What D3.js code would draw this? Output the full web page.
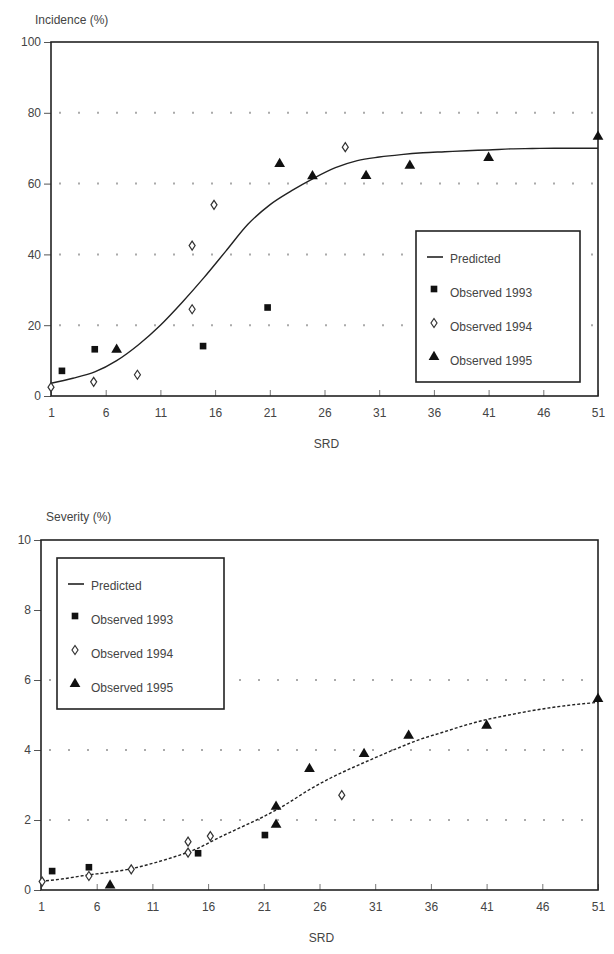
<!DOCTYPE html>
<html>
<head>
<meta charset="utf-8">
<script src="https://cdn.jsdelivr.net/npm/d3@7"></script>
<style>
  body { margin: 0; background: #fff; }
  text { font-family: "Liberation Sans", Arial, sans-serif; fill: #444; }
</style>
</head>
<body>
<div id="chart"></div>
<script>
// SRD axis ticks shared by both panels
const srdTicks = [1, 6, 11, 16, 21, 26, 31, 36, 41, 46, 51];
const curveSrd = [1, 3, 5, 7, 9, 11, 13, 15, 17, 19, 21, 23, 25, 27, 29, 31, 33, 35, 37, 39, 41, 43, 45, 47, 49, 51];

// Incidence (%)
const incTicks = [0, 20, 40, 60, 80, 100];
const incGrid = [20, 40, 60, 80];
const incPredicted = [3.6, 5, 6.8, 10, 14.5, 20, 26.5, 33.5, 41, 48.5, 54, 58, 61.5, 64.5, 66.5, 67.5, 68.2, 68.7, 69, 69.3, 69.5, 69.8, 69.9, 70, 70, 70];
const inc1993 = [[2, 7.1], [5, 13.2], [14.9, 14.1], [20.8, 25]];
const inc1994 = [[1, 2.5], [4.9, 4], [8.9, 6], [13.9, 24.5], [13.9, 42.5], [15.9, 54], [27.9, 70.3]];
const inc1995 = [[7, 12.8], [21.9, 65.3], [24.9, 61.8], [29.8, 61.9], [33.8, 64.8], [41, 67], [51, 73]];

// Severity (%)
const sevTicks = [0, 2, 4, 6, 8, 10];
const sevGrid = [2, 4, 6];
const sevPredicted = [0.25, 0.32, 0.42, 0.5, 0.6, 0.76, 0.95, 1.18, 1.5, 1.8, 2.1, 2.45, 2.85, 3.2, 3.5, 3.78, 4.05, 4.3, 4.5, 4.7, 4.87, 5.0, 5.12, 5.22, 5.3, 5.36];
const sev1993 = [[2, 0.54], [5.3, 0.65], [15.1, 1.05], [21.1, 1.57]];
const sev1994 = [[1.1, 0.24], [5.3, 0.4], [9.1, 0.59], [14.2, 1.38], [14.2, 1.07], [16.2, 1.54], [28, 2.71]];
const sev1995 = [[7.2, 0.1], [22.1, 2.35], [22.1, 1.84], [25.1, 3.43], [30, 3.86], [34, 4.38], [41, 4.67], [51, 5.43]];

const legendLabels = ["Predicted", "Observed 1993", "Observed 1994", "Observed 1995"];

const svg = d3.select("#chart")
    .append("svg")
    .attr("width", 614)
    .attr("height", 954);

// open narrow diamond used for 1994
function diamond(g, cx, cy) {
    g.append("path")
        .attr("d", `M${cx},${cy - 4.5}L${cx + 3},${cy}L${cx},${cy + 4.5}L${cx - 3},${cy}Z`)
        .attr("fill", "#fff")
        .attr("stroke", "#333")
        .attr("stroke-width", 1.2);
}
const square = d3.symbol().type(d3.symbolSquare).size(44);
const triangle = d3.symbol().type(d3.symbolTriangle).size(50);

function drawPanel(p) {
    const x = d3.scaleLinear().domain([1, 51]).range([p.left, p.right]);
    const y = d3.scaleLinear().domain([0, p.yMax]).range([p.bottom, p.top]);
    const g = svg.append("g");

    // dotted gridlines
    g.selectAll(".grid")
        .data(p.grid)
        .join("line")
        .attr("x1", p.left + 8)
        .attr("x2", p.right - 4)
        .attr("y1", d => y(d))
        .attr("y2", d => y(d))
        .attr("stroke", "#aaa")
        .attr("stroke-width", 2)
        .attr("stroke-dasharray", "2,17");

    // y axis
    const yAxis = g.append("g")
        .attr("transform", `translate(${p.left},0)`)
        .call(d3.axisLeft(y).tickValues(p.yTicks).tickSize(7).tickPadding(3).tickFormat(d3.format("d")));
    yAxis.select(".domain").remove();
    yAxis.selectAll("line").attr("stroke", "#555");
    yAxis.selectAll("text").style("font-size", "12px").attr("fill", "#444");

    // x axis with inward ticks
    const xAxis = g.append("g")
        .attr("transform", `translate(0,${p.bottom})`)
        .call(d3.axisBottom(x).tickValues(srdTicks).tickSizeInner(-6).tickSizeOuter(0).tickPadding(12));
    xAxis.select(".domain").remove();
    xAxis.selectAll("line").attr("stroke", "#777");
    xAxis.selectAll("text").style("font-size", "12px").attr("fill", "#444");

    // frame
    g.append("rect")
        .attr("x", p.left)
        .attr("y", p.top)
        .attr("width", p.right - p.left)
        .attr("height", p.bottom - p.top)
        .attr("fill", "none")
        .attr("stroke", "#222")
        .attr("stroke-width", 1.6);

    // titles
    g.append("text")
        .attr("x", p.titleX)
        .attr("y", p.titleY)
        .style("font-size", "12px")
        .text(p.title);
    g.append("text")
        .attr("x", (p.left + p.right) / 2 + 2)
        .attr("y", p.bottom + 52)
        .attr("text-anchor", "middle")
        .style("font-size", "12px")
        .text("SRD");

    // predicted curve
    const line = d3.line()
        .x((d, i) => x(curveSrd[i]))
        .y(d => y(d))
        .curve(d3.curveMonotoneX);
    g.append("path")
        .datum(p.predicted)
        .attr("d", line)
        .attr("fill", "none")
        .attr("stroke", "#222")
        .attr("stroke-width", 1.4)
        .attr("stroke-dasharray", p.dash);

    // observed points
    g.selectAll(".s93")
        .data(p.obs93)
        .join("path")
        .attr("d", square)
        .attr("transform", d => `translate(${x(d[0])},${y(d[1])})`)
        .attr("fill", "#111");
    p.obs94.forEach(d => diamond(g, x(d[0]), y(d[1])));
    g.selectAll(".s95")
        .data(p.obs95)
        .join("path")
        .attr("d", triangle)
        .attr("transform", d => `translate(${x(d[0])},${y(d[1]) - 1})`)
        .attr("fill", "#111");

    // legend
    const lg = g.append("g").attr("transform", `translate(${p.legend[0]},${p.legend[1]})`);
    lg.append("rect")
        .attr("width", p.legend[2])
        .attr("height", 151)
        .attr("fill", "#fff")
        .attr("stroke", "#222")
        .attr("stroke-width", 1.6);
    legendLabels.forEach((lab, i) => {
        const ty = 32 + i * 34;
        const row = lg.append("g");
        if (i === 0) {
            row.append("line")
                .attr("x1", 11).attr("x2", 27)
                .attr("y1", ty - 6).attr("y2", ty - 6)
                .attr("stroke", "#222").attr("stroke-width", 1.6);
        } else if (i === 1) {
            row.append("path").attr("d", square).attr("transform", `translate(18,${ty - 8})`).attr("fill", "#111");
        } else if (i === 2) {
            diamond(row, 18, ty - 8);
        } else {
            row.append("path").attr("d", triangle).attr("transform", `translate(18,${ty - 8})`).attr("fill", "#111");
        }
        row.append("text")
            .attr("x", 34)
            .attr("y", ty)
            .style("font-size", "12px")
            .text(lab);
    });
}

drawPanel({
    left: 51, right: 598, top: 42, bottom: 396, yMax: 100,
    yTicks: incTicks, grid: incGrid, predicted: incPredicted,
    obs93: inc1993, obs94: inc1994, obs95: inc1995,
    title: "Incidence (%)", titleX: 35, titleY: 24,
    legend: [416, 231, 164], dash: null
});

drawPanel({
    left: 41, right: 598, top: 540, bottom: 890, yMax: 10,
    yTicks: sevTicks, grid: sevGrid, predicted: sevPredicted,
    obs93: sev1993, obs94: sev1994, obs95: sev1995,
    title: "Severity (%)", titleX: 46, titleY: 521,
    legend: [57, 558, 167], dash: "3,2"
});
</script>
</body>
</html>
